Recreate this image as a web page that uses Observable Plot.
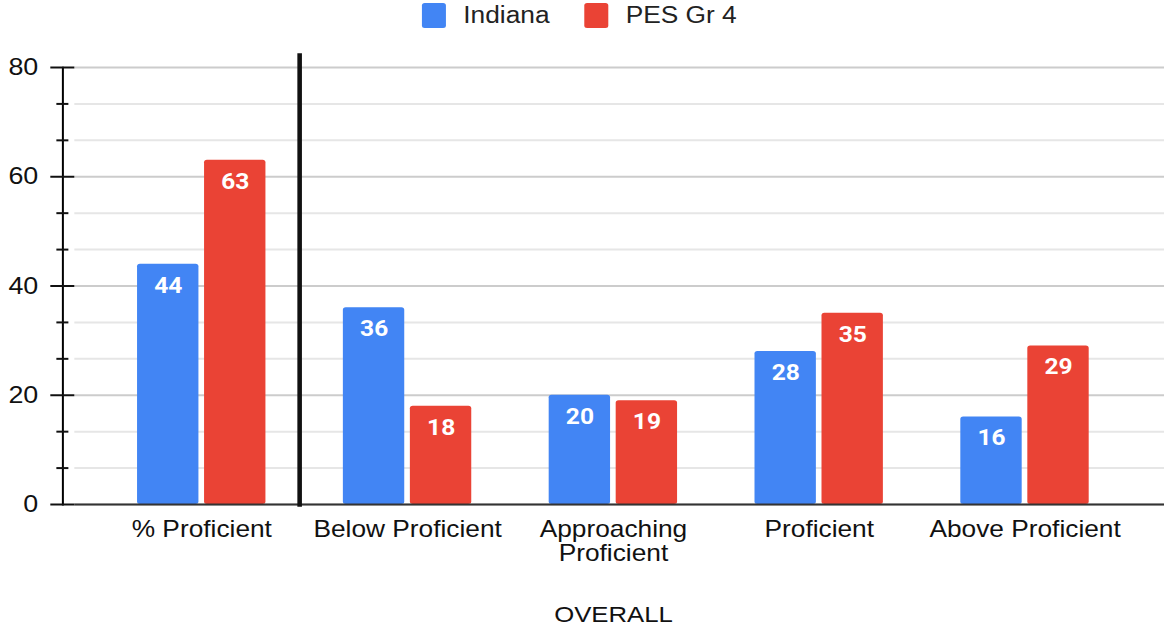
<!DOCTYPE html>
<html>
<head>
<meta charset="utf-8">
<script src="https://cdn.jsdelivr.net/npm/d3@7"></script>
<script src="https://cdn.jsdelivr.net/npm/@observablehq/plot@0.6"></script>
<style>
  html, body { margin: 0; padding: 0; background: #fff; }
  /* chart is laid out at 1018px and widened to fill the 1164px page */
  #chart { width: 1018px; transform: scaleX(1.14342); transform-origin: 0 0; }
  .lg-swatches { margin: 0 !important; height: 31px !important; min-height: 31px !important;
    justify-content: center !important; font: 23px "Liberation Sans", Arial, sans-serif !important;
    color: #222 !important; padding-right: 5px; }
  .lg-swatch { margin-right: 30px !important; }
  .lg-swatch:last-child { margin-right: 0 !important; }
  .lg-swatch > svg { margin-right: 15.5px !important; }
  .lg-swatch rect { rx: 2.5px; ry: 2.5px; }
</style>
</head>
<body>
<div id="chart"></div>
<script>
// Assessment results, overall and by performance level
const categories = ["% Proficient", "Below Proficient", "Approaching Proficient", "Proficient", "Above Proficient"];
const series = ["Indiana", "PES Gr 4"];
const indiana = [44, 36, 20, 28, 16];
const pesGr4 = [63, 18, 19, 35, 29];
const colors = ["#4285f4", "#ea4335"];
const majorTicks = [0, 20, 40, 60, 80];
const minorTicks = [20 / 3, 40 / 3, 80 / 3, 100 / 3, 140 / 3, 160 / 3, 200 / 3, 220 / 3];
const axisTitle = "OVERALL";

const rows = categories.flatMap((category, i) => [
  {category, series: series[0], value: indiana[i]},
  {category, series: series[1], value: pesGr4[i]}
]);

// band layout: each category band holds a pair of bars
const bandRange = [84.8, 987.4];
const bandwidth = (bandRange[1] - bandRange[0]) / categories.length;
const barWidth = 54.2;
const barGap = 4.4;
const half = bandwidth / 2;
const inner = half + barGap / 2;
const outer = half - barGap / 2 - barWidth;
const labelShift = barGap / 2 + barWidth / 2;

const font = "'Liberation Sans', Arial, sans-serif";
const wrap = (d) => d.length > 18 ? d.replace(" ", "\n") : d;

const legend = Plot.legend({
  color: {domain: series, range: colors},
  legend: "swatches",
  swatchWidth: 21,
  swatchHeight: 25,
  className: "lg"
});

const chart = Plot.plot({
  width: 1018,
  height: 599,
  marginTop: 36,
  marginBottom: 126,
  marginLeft: 65,
  marginRight: 0,
  style: {fontFamily: font, color: "#222", background: "#fff"},
  x: {type: "band", domain: categories, range: bandRange, padding: 0},
  y: {domain: [0, 80]},
  color: {domain: series, range: colors},
  marks: [
    Plot.ruleY(minorTicks, {stroke: "#e6e6e6", strokeWidth: 2}),
    Plot.ruleY(majorTicks, {stroke: "#cccccc", strokeWidth: 2}),
    Plot.barY(rows, {filter: (d) => d.series === series[0], x: "category", y: "value", fill: "series",
      insetLeft: outer, insetRight: inner, rx: 2.5}),
    Plot.barY(rows, {filter: (d) => d.series === series[1], x: "category", y: "value", fill: "series",
      insetLeft: inner, insetRight: outer, rx: 2.5}),
    Plot.text(rows, {filter: (d) => d.series === series[0], x: "category", y: "value", text: "value",
      dx: -labelShift, dy: 21.5, fill: "white", fontSize: 21.5, fontWeight: 700, fontFamily: "Roboto"}),
    Plot.text(rows, {filter: (d) => d.series === series[1], x: "category", y: "value", text: "value",
      dx: labelShift, dy: 21.5, fill: "white", fontSize: 21.5, fontWeight: 700, fontFamily: "Roboto"}),
    Plot.ruleY([0], {stroke: "#333", strokeWidth: 2}),
    // y axis: spine, major ticks with labels, minor ticks
    Plot.frame({anchor: "left", dx: -10.5, stroke: "#000", strokeWidth: 1.75}),
    Plot.axisY(majorTicks, {anchor: "left", tickSize: 21, tickPadding: 11, fontSize: 23.5, strokeWidth: 2,
      color: "#111", label: null}),
    Plot.axisY(minorTicks, {anchor: "left", tickSize: 10.5, dx: -5.2, strokeWidth: 2, color: "#111",
      tickFormat: () => "", label: null}),
    // category labels along the bottom
    Plot.axisX({anchor: "bottom", tickSize: 0, tickPadding: 16, fontSize: 23, lineHeight: 1.04,
      tickFormat: wrap, color: "#111", label: null}),
    Plot.text([axisTitle], {frameAnchor: "bottom", dx: -5.5, dy: 110, lineAnchor: "middle",
      fontSize: 22.5, fill: "#111"}),
    // divider between the overall share and the level breakdown
    Plot.ruleX([categories[0]], {x: (d) => d, y1: -0.5, y2: 82.5, dx: half - 4.7,
      stroke: "#111", strokeWidth: 4})
  ]
});

const root = document.getElementById("chart");
root.append(legend, chart);
</script>
</body>
</html>
